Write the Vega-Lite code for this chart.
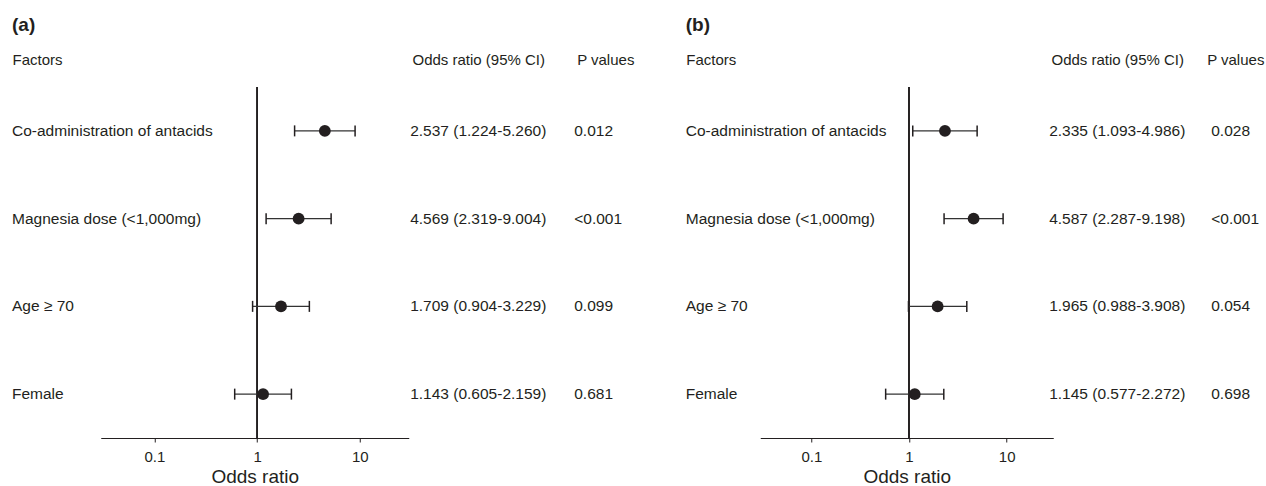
{
  "$schema": "https://vega.github.io/schema/vega-lite/v6.json",
  "autosize": {"type": "pad"},
  "padding": {"left": 12, "top": 16, "right": 0, "bottom": 0},
  "config": {
    "view": {"stroke": null},
    "font": "Liberation Sans",
    "text": {"font": "Liberation Sans", "fontSize": 15.5, "color": "#231f20"},
    "title": {"font": "Liberation Sans", "fontSize": 19, "fontWeight": "bold", "color": "#231f20", "anchor": "start"}
  },
  "datasets": {
    "a": [
      {"Factors": "Co-administration of antacids", "or": 4.569, "lo": 2.319, "hi": 9.004, "Odds ratio (95% CI)": "2.537 (1.224-5.260)", "P values": "0.012"},
      {"Factors": "Magnesia dose (<1,000mg)", "or": 2.537, "lo": 1.224, "hi": 5.26, "Odds ratio (95% CI)": "4.569 (2.319-9.004)", "P values": "<0.001"},
      {"Factors": "Age ≥ 70", "or": 1.709, "lo": 0.904, "hi": 3.229, "Odds ratio (95% CI)": "1.709 (0.904-3.229)", "P values": "0.099"},
      {"Factors": "Female", "or": 1.143, "lo": 0.605, "hi": 2.159, "Odds ratio (95% CI)": "1.143 (0.605-2.159)", "P values": "0.681"}
    ],
    "b": [
      {"Factors": "Co-administration of antacids", "or": 2.335, "lo": 1.093, "hi": 4.986, "Odds ratio (95% CI)": "2.335 (1.093-4.986)", "P values": "0.028"},
      {"Factors": "Magnesia dose (<1,000mg)", "or": 4.587, "lo": 2.287, "hi": 9.198, "Odds ratio (95% CI)": "4.587 (2.287-9.198)", "P values": "<0.001"},
      {"Factors": "Age ≥ 70", "or": 1.965, "lo": 0.988, "hi": 3.908, "Odds ratio (95% CI)": "1.965 (0.988-3.908)", "P values": "0.054"},
      {"Factors": "Female", "or": 1.145, "lo": 0.577, "hi": 2.272, "Odds ratio (95% CI)": "1.145 (0.577-2.272)", "P values": "0.698"}
    ]
  },
  "spacing": 48.75,
  "hconcat": [
    {
      "title": {"text": "(a)", "offset": 17},
      "bounds": "flush",
      "spacing": 37.75,
      "hconcat": [
        {
          "data": {"name": "a"},
          "width": 50.25, "height": 351,
          "transform": [{"fold": ["Factors"], "as": ["hdr", "name"]}],
          "mark": {"type": "text", "align": "left", "baseline": "middle"},
          "encoding": {
            "x": {"field": "hdr", "type": "nominal", "scale": {"type": "point", "padding": 0, "align": 0},
                  "axis": {"orient": "top", "title": null, "domain": false, "ticks": false, "labelAngle": 0, "labelAlign": "left", "labelFontSize": 15, "labelColor": "#231f20", "labelPadding": 20}},
            "y": {"field": "name", "type": "nominal", "sort": null, "scale": {"type": "point", "padding": 0.5}, "axis": null},
            "text": {"field": "name"}
          }
        },
        {
          "data": {"name": "a"},
          "width": 308, "height": 351,
          "layer": [
            {
              "mark": {"type": "rule", "color": "#231f20", "strokeWidth": 1.2},
              "encoding": {
                "x": {"datum": 1, "type": "quantitative",
                      "scale": {"type": "log", "domain": [0.03, 30], "nice": false},
                      "axis": {"values": [0.1, 1, 10], "format": "~g", "grid": false, "domainColor": "#231f20", "tickColor": "#231f20", "tickSize": 4, "labelFontSize": 15, "labelColor": "#231f20", "labelPadding": 7, "title": "Odds ratio", "titleFontSize": 19, "titleFontWeight": "normal", "titleColor": "#231f20", "titlePadding": 3}}
              }
            },
            {
              "mark": {"type": "rule", "color": "#333333", "strokeWidth": 1.3},
              "encoding": {
                "x": {"field": "lo", "type": "quantitative"},
                "x2": {"field": "hi"},
                "y": {"field": "Factors", "type": "nominal", "sort": null, "scale": {"type": "point", "padding": 0.5}, "axis": null}
              }
            },
            {
              "mark": {"type": "tick", "size": 11, "thickness": 1.5, "color": "#231f20", "opacity": 1},
              "encoding": {
                "x": {"field": "lo", "type": "quantitative"},
                "y": {"field": "Factors", "type": "nominal", "sort": null}
              }
            },
            {
              "mark": {"type": "tick", "size": 11, "thickness": 1.5, "color": "#231f20", "opacity": 1},
              "encoding": {
                "x": {"field": "hi", "type": "quantitative"},
                "y": {"field": "Factors", "type": "nominal", "sort": null}
              }
            },
            {
              "mark": {"type": "circle", "size": 140, "opacity": 1, "color": "#231f20"},
              "encoding": {
                "x": {"field": "or", "type": "quantitative"},
                "y": {"field": "Factors", "type": "nominal", "sort": null}
              }
            }
          ]
        },
        {
          "data": {"name": "a"},
          "width": 190.5, "height": 351,
          "transform": [{"fold": ["Odds ratio (95% CI)", "P values"], "as": ["hdr", "val"]}],
          "encoding": {
            "x": {"field": "hdr", "type": "nominal", "sort": null, "scale": {"type": "point", "padding": 0.25},
                  "axis": {"orient": "top", "title": null, "domain": false, "ticks": false, "labelAngle": 0, "labelFontSize": 15, "labelColor": "#231f20", "labelPadding": 20}},
            "y": {"field": "Factors", "type": "nominal", "sort": null, "scale": {"type": "point", "padding": 0.5}, "axis": null},
            "text": {"field": "val"}
          },
          "layer": [
            {"transform": [{"filter": "datum.hdr == 'Odds ratio (95% CI)'"}], "mark": {"type": "text", "align": "center", "baseline": "middle"}},
            {"transform": [{"filter": "datum.hdr == 'P values'"}], "mark": {"type": "text", "align": "left", "baseline": "middle", "dx": -31}}
          ]
        }
      ]
    },
    {
      "title": {"text": "(b)", "offset": 17},
      "bounds": "flush",
      "spacing": 34.5,
      "hconcat": [
        {
          "data": {"name": "b"},
          "width": 39.5, "height": 351,
          "transform": [{"fold": ["Factors"], "as": ["hdr", "name"]}],
          "mark": {"type": "text", "align": "left", "baseline": "middle"},
          "encoding": {
            "x": {"field": "hdr", "type": "nominal", "scale": {"type": "point", "padding": 0, "align": 0},
                  "axis": {"orient": "top", "title": null, "domain": false, "ticks": false, "labelAngle": 0, "labelAlign": "left", "labelFontSize": 15, "labelColor": "#231f20", "labelPadding": 20}},
            "y": {"field": "name", "type": "nominal", "sort": null, "scale": {"type": "point", "padding": 0.5}, "axis": null},
            "text": {"field": "name"}
          }
        },
        {
          "data": {"name": "b"},
          "width": 293, "height": 351,
          "layer": [
            {
              "mark": {"type": "rule", "color": "#231f20", "strokeWidth": 1.2},
              "encoding": {
                "x": {"datum": 1, "type": "quantitative",
                      "scale": {"type": "log", "domain": [0.03, 30], "nice": false},
                      "axis": {"values": [0.1, 1, 10], "format": "~g", "grid": false, "domainColor": "#231f20", "tickColor": "#231f20", "tickSize": 4, "labelFontSize": 15, "labelColor": "#231f20", "labelPadding": 7, "title": "Odds ratio", "titleFontSize": 19, "titleFontWeight": "normal", "titleColor": "#231f20", "titlePadding": 3}}
              }
            },
            {
              "mark": {"type": "rule", "color": "#333333", "strokeWidth": 1.3},
              "encoding": {
                "x": {"field": "lo", "type": "quantitative"},
                "x2": {"field": "hi"},
                "y": {"field": "Factors", "type": "nominal", "sort": null, "scale": {"type": "point", "padding": 0.5}, "axis": null}
              }
            },
            {
              "mark": {"type": "tick", "size": 11, "thickness": 1.5, "color": "#231f20", "opacity": 1},
              "encoding": {
                "x": {"field": "lo", "type": "quantitative"},
                "y": {"field": "Factors", "type": "nominal", "sort": null}
              }
            },
            {
              "mark": {"type": "tick", "size": 11, "thickness": 1.5, "color": "#231f20", "opacity": 1},
              "encoding": {
                "x": {"field": "hi", "type": "quantitative"},
                "y": {"field": "Factors", "type": "nominal", "sort": null}
              }
            },
            {
              "mark": {"type": "circle", "size": 140, "opacity": 1, "color": "#231f20"},
              "encoding": {
                "x": {"field": "or", "type": "quantitative"},
                "y": {"field": "Factors", "type": "nominal", "sort": null}
              }
            }
          ]
        },
        {
          "data": {"name": "b"},
          "width": 177, "height": 351,
          "transform": [{"fold": ["Odds ratio (95% CI)", "P values"], "as": ["hdr", "val"]}],
          "encoding": {
            "x": {"field": "hdr", "type": "nominal", "sort": null, "scale": {"type": "point", "padding": 0.25},
                  "axis": {"orient": "top", "title": null, "domain": false, "ticks": false, "labelAngle": 0, "labelFontSize": 15, "labelColor": "#231f20", "labelPadding": 20}},
            "y": {"field": "Factors", "type": "nominal", "sort": null, "scale": {"type": "point", "padding": 0.5}, "axis": null},
            "text": {"field": "val"}
          },
          "layer": [
            {"transform": [{"filter": "datum.hdr == 'Odds ratio (95% CI)'"}], "mark": {"type": "text", "align": "center", "baseline": "middle"}},
            {"transform": [{"filter": "datum.hdr == 'P values'"}], "mark": {"type": "text", "align": "left", "baseline": "middle", "dx": -24}}
          ]
        }
      ]
    }
  ]
}
